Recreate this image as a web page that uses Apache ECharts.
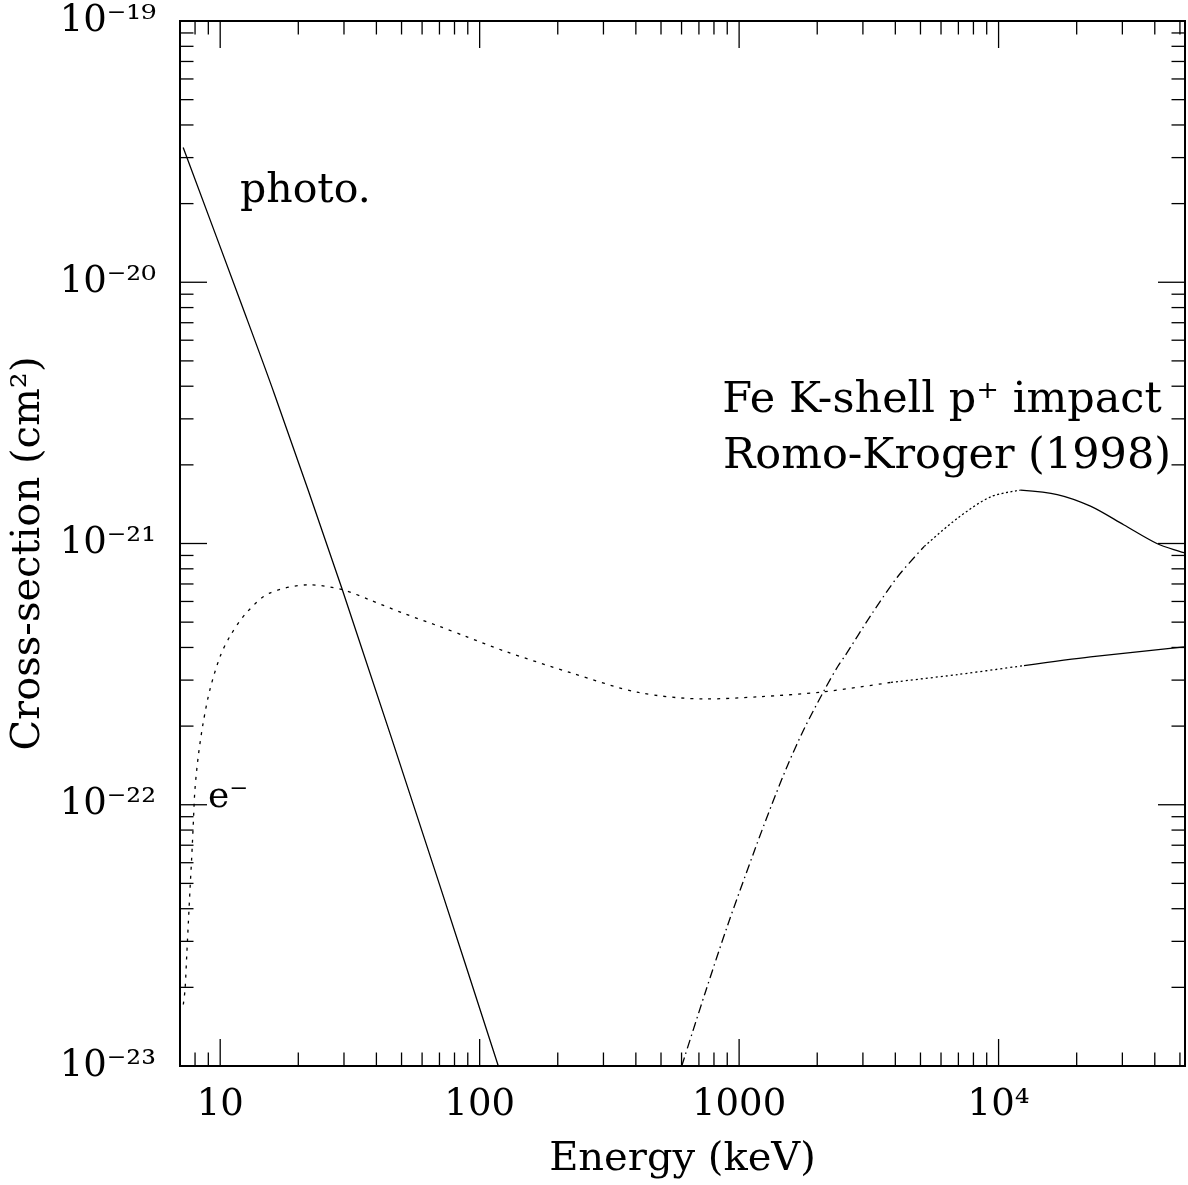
<!DOCTYPE html>
<html>
<head>
<meta charset="utf-8">
<script src="https://cdn.jsdelivr.net/npm/echarts@6/dist/echarts.min.js"></script>
<style>
html,body{margin:0;padding:0;background:#fff;}
#chart{width:1188px;height:1185px;}
</style>
</head>
<body>
<div id="chart"></div>
<script>
// ---- data (energy in keV, cross-section in cm^2) ----
const photoE     = [7.2, 12.1, 16.2, 29.5, 69.8, 118];
const photoSigma = [3.28e-20, 8.2e-21, 3.72e-21, 6.7e-22, 5.0e-23, 1.0e-23];

const elecE     = [7.21, 7.32, 7.43, 7.54, 7.65, 7.77, 7.88, 7.99, 8.23, 8.60, 9.13, 10.0, 10.9, 12.6, 15.5, 22.1, 29.7, 37.6, 50.5, 69.8, 88.4, 126, 227, 410, 739, 1185, 2076, 3850, 6950, 12530, 22600, 49800, 52300];
const elecSigma = [1.72e-23, 1.96e-23, 2.64e-23, 3.55e-23, 4.74e-23, 6.35e-23, 8.55e-23, 1.14e-22, 1.53e-22, 2.06e-22, 2.76e-22, 3.70e-22, 4.41e-22, 5.42e-22, 6.46e-22, 6.95e-22, 6.65e-22, 6.09e-22, 5.42e-22, 4.82e-22, 4.41e-22, 3.86e-22, 3.19e-22, 2.69e-22, 2.54e-22, 2.59e-22, 2.70e-22, 2.94e-22, 3.15e-22, 3.41e-22, 3.68e-22, 4.00e-22, 4.02e-22];

const protE     = [601, 739, 908, 1150, 1332, 1544, 1789, 2136, 2403, 2552, 3228, 4083, 5171, 6950, 9330, 12160, 16830, 22600, 30340, 40740, 49800, 52300];
const protSigma = [1.0e-23, 1.90e-23, 3.51e-23, 6.74e-23, 9.93e-23, 1.43e-22, 1.97e-22, 2.76e-22, 3.39e-22, 3.70e-22, 5.33e-22, 7.46e-22, 9.75e-22, 1.25e-21, 1.51e-21, 1.60e-21, 1.54e-21, 1.39e-21, 1.18e-21, 1.00e-21, 9.32e-22, 9.2e-22];

// ---- axes ----
const X_MIN = 7, X_MAX = 52300;
const Y_MIN = 1e-23, Y_MAX = 1e-19;
const Y_UNIT = 1e-24;           // plotted in units of 1e-24 cm^2 (avoids tick rounding of tiny numbers)
const xMajorTicks = [10, 100, 1000, 10000];
const xMinorMult = [2, 3, 4, 5, 6, 7, 8, 9];
const yMajorTicks = [1e-23, 1e-22, 1e-21, 1e-20, 1e-19];
const xTickLabels = {1: '10', 2: '100', 3: '1000', 4: '10⁴'};
const yTickLabels = {'-23': '10⁻²³', '-22': '10⁻²²', '-21': '10⁻²¹', '-20': '10⁻²⁰', '-19': '10⁻¹⁹'};

const FONT = 'DejaVu Serif';

function pts(E, S, lo, hi) {
  const out = [];
  for (let i = 0; i < E.length; i++) {
    if (E[i] >= lo && E[i] <= hi) out.push([E[i], S[i] / Y_UNIT]);
  }
  return out;
}

// tick lists (values in axis units)
const xTickData = [];
[1, 10, 100, 1000, 10000].forEach(d => {
  xMinorMult.forEach(m => { const v = d * m; if (v > X_MIN && v < X_MAX) xTickData.push([v, Y_MIN / Y_UNIT, 0]); });
});
xMajorTicks.forEach(v => xTickData.push([v, Y_MIN / Y_UNIT, 1]));
const yTickData = [];
yMajorTicks.forEach((d, i) => {
  yTickData.push([X_MIN, d / Y_UNIT, 1]);
  if (i < yMajorTicks.length - 1) xMinorMult.forEach(m => yTickData.push([X_MIN, d * m / Y_UNIT, 0]));
});

function isPow(v) {
  const l = Math.log10(v);
  return Math.abs(l - Math.round(l)) < 1e-6 ? Math.round(l) : null;
}

const chart = echarts.init(document.getElementById('chart'), null, {renderer: 'canvas'});

const TICK_STYLE = {stroke: '#000', lineWidth: 1.3};
const SM = 0.3;

chart.setOption({
  animation: false,
  backgroundColor: '#fff',
  textStyle: {fontFamily: FONT, color: '#000'},
  grid: {left: 180, top: 21, right: 1, bottom: 118, show: true, borderColor: '#000', borderWidth: 2, backgroundColor: 'transparent'},
  xAxis: {
    type: 'log', logBase: 10, min: X_MIN, max: X_MAX,
    axisLine: {show: false}, axisTick: {show: false}, splitLine: {show: false}, minorTick: {show: false},
    axisLabel: {
      color: '#000', fontFamily: FONT, fontSize: 37, margin: 21,
      formatter: function (v) { const e = isPow(v); return (e !== null && xTickLabels[e]) ? xTickLabels[e] : ''; }
    },
    name: 'Energy (keV)', nameLocation: 'middle', nameGap: 74,
    nameTextStyle: {color: '#000', fontFamily: FONT, fontSize: 40}
  },
  yAxis: {
    type: 'log', logBase: 10, min: Y_MIN / Y_UNIT, max: Y_MAX / Y_UNIT,
    axisLine: {show: false}, axisTick: {show: false}, splitLine: {show: false}, minorTick: {show: false},
    axisLabel: {
      color: '#000', fontFamily: FONT, fontSize: 37, margin: 24,
      formatter: function (v) { const e = isPow(v); if (e === null) return ''; const k = String(e + Math.round(Math.log10(Y_UNIT))); return yTickLabels[k] || ''; }
    },
    name: 'Cross-section (cm²)', nameLocation: 'middle', nameGap: 122,
    nameTextStyle: {color: '#000', fontFamily: FONT, fontSize: 40, padding: [0, 20, 0, 0]}
  },
  series: [
    {type: 'line', name: 'photo', data: pts(photoE, photoSigma, 0, 1e9), symbol: 'none', smooth: SM,
     lineStyle: {color: '#000', width: 1.3, type: 'solid'}},
    {type: 'line', name: 'e1', data: pts(elecE, elecSigma, 0, 3850), symbol: 'none', smooth: SM,
     lineStyle: {color: '#000', width: 1.3, type: [3, 6]}},
    {type: 'line', name: 'e2', data: pts(elecE, elecSigma, 3850, 12530), symbol: 'none', smooth: SM,
     lineStyle: {color: '#000', width: 1.3, type: [2, 3]}},
    {type: 'line', name: 'e3', data: pts(elecE, elecSigma, 12530, 1e9), symbol: 'none', smooth: SM,
     lineStyle: {color: '#000', width: 1.3, type: 'solid'}},
    {type: 'line', name: 'p1', data: pts(protE, protSigma, 0, 5171), symbol: 'none', smooth: SM,
     lineStyle: {color: '#000', width: 1.3, type: [9, 4, 1.5, 4]}},
    {type: 'line', name: 'p2', data: pts(protE, protSigma, 5171, 12160), symbol: 'none', smooth: SM,
     lineStyle: {color: '#000', width: 1.3, type: [2, 2.5]}},
    {type: 'line', name: 'p3', data: pts(protE, protSigma, 12160, 1e9), symbol: 'none', smooth: SM,
     lineStyle: {color: '#000', width: 1.3, type: 'solid'}},
    {
      type: 'custom', name: 'xticks', silent: true, clip: false, z: 5, data: xTickData,
      renderItem: function (params, api) {
        const v = api.value(0), maj = api.value(2);
        const b = api.coord([v, Y_MIN / Y_UNIT]);
        const t = api.coord([v, Y_MAX / Y_UNIT]);
        const L = maj ? 27 : 13.5;
        return {type: 'group', children: [
          {type: 'line', shape: {x1: b[0], y1: b[1], x2: b[0], y2: b[1] - L}, style: TICK_STYLE},
          {type: 'line', shape: {x1: t[0], y1: t[1], x2: t[0], y2: t[1] + L}, style: TICK_STYLE}
        ]};
      }
    },
    {
      type: 'custom', name: 'yticks', silent: true, clip: false, z: 5, data: yTickData,
      renderItem: function (params, api) {
        const v = api.value(1), maj = api.value(2);
        const l = api.coord([X_MIN, v]);
        const r = api.coord([X_MAX, v]);
        const L = maj ? 27 : 13.5;
        return {type: 'group', children: [
          {type: 'line', shape: {x1: l[0], y1: l[1], x2: l[0] + L, y2: l[1]}, style: TICK_STYLE},
          {type: 'line', shape: {x1: r[0], y1: r[1], x2: r[0] - L, y2: r[1]}, style: TICK_STYLE}
        ]};
      }
    }
  ],
  graphic: [
    {type: 'text', x: 240, y: 191, style: {text: 'photo.', fontFamily: FONT, fontSize: 41, fill: '#000', align: 'left', verticalAlign: 'middle'}},
    {type: 'text', x: 208, y: 798, style: {text: 'e⁻', fontFamily: FONT, fontSize: 36, fill: '#000', align: 'left', verticalAlign: 'middle'}},
    {type: 'text', x: 942, y: 401, style: {text: 'Fe K-shell p⁺ impact', fontFamily: FONT, fontSize: 43, fill: '#000', align: 'center', verticalAlign: 'middle'}},
    {type: 'text', x: 947, y: 457, style: {text: 'Romo-Kroger (1998)', fontFamily: FONT, fontSize: 43, fill: '#000', align: 'center', verticalAlign: 'middle'}}
  ]
});
</script>
</body>
</html>
